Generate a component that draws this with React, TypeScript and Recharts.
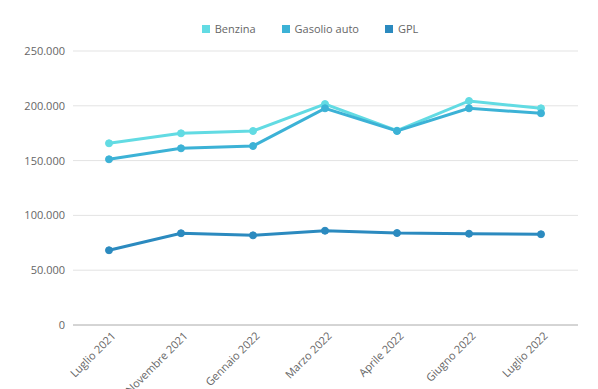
import React from "react";
import {
  LineChart,
  Line,
  XAxis,
  YAxis,
  CartesianGrid,
  Legend,
} from "recharts";

const months = [
  "Luglio 2021",
  "Novembre 2021",
  "Gennaio 2022",
  "Marzo 2022",
  "Aprile 2022",
  "Giugno 2022",
  "Luglio 2022",
];
const benzina = [165800, 174900, 177000, 201600, 177300, 204400, 197700];
const gasolio = [151200, 161200, 163300, 197700, 177000, 197700, 193200];
const gpl = [68200, 83700, 81800, 86000, 83900, 83300, 82800];
const yTicks = [0, 50000, 100000, 150000, 200000, 250000];

const series = [
  { key: "benzina", name: "Benzina", color: "#62dbe3" },
  { key: "gasolio", name: "Gasolio auto", color: "#3cb2d6" },
  { key: "gpl", name: "GPL", color: "#2b8abf" },
];

const data = months.map((m, i) => ({
  month: m,
  benzina: benzina[i],
  gasolio: gasolio[i],
  gpl: gpl[i],
}));

// punto come separatore delle migliaia
const fmt = (v: number) => String(v).replace(/\B(?=(\d{3})+(?!\d))/g, ".");

const font = "'Open Sans', sans-serif";

const CustomLegend = () => (
  <div
    style={{
      display: "flex",
      justifyContent: "center",
      paddingLeft: 42,
      paddingTop: 1,
      fontFamily: font,
      fontSize: 11,
      color: "#666",
    }}
  >
    {series.map((s) => (
      <div
        key={s.key}
        style={{ display: "flex", alignItems: "center", margin: "0 13px" }}
      >
        <span
          style={{
            width: 8,
            height: 8,
            background: s.color,
            display: "inline-block",
            marginRight: 5,
          }}
        />
        <span>{s.name}</span>
      </div>
    ))}
  </div>
);

export default function App() {
  return (
    <div style={{ width: 598, height: 389 }}>
      <style>{"body{margin:0}"}</style>
      <LineChart
        width={598}
        height={389}
        data={data}
        margin={{ top: 20, right: 20, bottom: 0, left: 0 }}
      >
        <Legend verticalAlign="top" height={31} content={<CustomLegend />} />
        <CartesianGrid vertical={false} stroke="#e3e3e3" />
        <XAxis
          dataKey="month"
          height={64}
          interval={0}
          padding={{ left: 36, right: 37 }}
          tickLine={false}
          stroke="#b8b8b8"
          angle={-45}
          textAnchor="end"
          dy={-2}
          dx={2}
          tick={{ fill: "#666", fontSize: 11, fontFamily: font }}
        />
        <YAxis
          width={73}
          domain={[0, 250000]}
          ticks={yTicks}
          tickFormatter={fmt}
          axisLine={false}
          tickLine={false}
          tick={{ fill: "#666", fontSize: 11, fontFamily: font }}
        />
        {series.map((s) => (
          <Line
            key={s.key}
            type="linear"
            dataKey={s.key}
            name={s.name}
            stroke={s.color}
            strokeWidth={3}
            dot={{ r: 3.5, fill: s.color, stroke: s.color, strokeWidth: 1 }}
            activeDot={false}
            isAnimationActive={false}
          />
        ))}
      </LineChart>
    </div>
  );
}
